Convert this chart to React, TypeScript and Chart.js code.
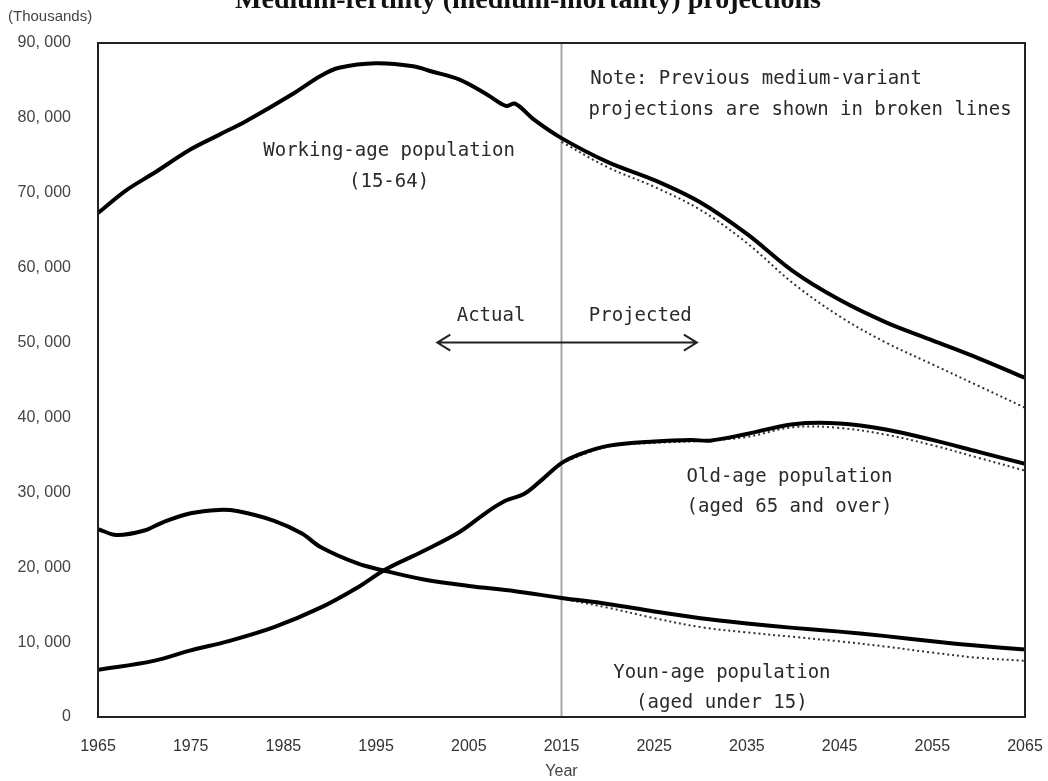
import React, { useEffect, useRef } from "react";
import { Chart, registerables } from "chart.js";

Chart.register(...registerables);

// ---- Data (thousands) ----
const xTickYears = [1965, 1975, 1985, 1995, 2005, 2015, 2025, 2035, 2045, 2055, 2065];
const yTickValues = [0, 10000, 20000, 30000, 40000, 50000, 60000, 70000, 80000, 90000];

const workingYears = [1965, 1968, 1971, 1975, 1978, 1981, 1986, 1989, 1991, 1995, 1999, 2001, 2004, 2007, 2009, 2010, 2012, 2015, 2020, 2025, 2030, 2035, 2040, 2045, 2050, 2055, 2060, 2065];
const workingValues = [67300, 70300, 72600, 75800, 77700, 79600, 83200, 85600, 86700, 87300, 86900, 86200, 85100, 83100, 81600, 81900, 79800, 77300, 74100, 71700, 68700, 64500, 59500, 55700, 52700, 50300, 47900, 45300];

const oldYears = [1965, 1971, 1975, 1979, 1984, 1989, 1993, 1996, 2000, 2004, 2007, 2009, 2011, 2013, 2015, 2017, 2020, 2025, 2029, 2031, 2035, 2040, 2045, 2050, 2055, 2060, 2065];
const oldValues = [6300, 7500, 8900, 10100, 12000, 14600, 17300, 19700, 22100, 24700, 27400, 28900, 29800, 31800, 33900, 35100, 36200, 36800, 37000, 36900, 37800, 39100, 39200, 38400, 37000, 35400, 33800];

const youngYears = [1965, 1967, 1970, 1972, 1975, 1978, 1980, 1984, 1987, 1989, 1993, 1996, 2000, 2005, 2010, 2015, 2020, 2025, 2030, 2035, 2040, 2045, 2050, 2055, 2060, 2065];
const youngValues = [25100, 24300, 24900, 26000, 27200, 27650, 27500, 26200, 24500, 22700, 20500, 19500, 18400, 17500, 16800, 15900, 15100, 14100, 13200, 12500, 11900, 11400, 10800, 10100, 9500, 9000];

const prevYears = [2015, 2020, 2025, 2030, 2035, 2040, 2045, 2050, 2055, 2060, 2065];
const prevWorking = [76800, 73400, 70800, 67700, 63300, 57900, 53500, 50000, 47100, 44200, 41300];
const prevOld = [33950, 36100, 36600, 36850, 37400, 38700, 38600, 37700, 36300, 34600, 32900];
const prevYoung = [15800, 14600, 13200, 12000, 11300, 10700, 10100, 9400, 8600, 7900, 7500];

const boundaryYear = 2015;

const TITLE = "Medium-fertility (medium-mortality) projections";
const MONO = "'DejaVu Sans Mono', monospace";
const SANS = "'Liberation Sans', Arial, sans-serif";

function pts(xs: number[], ys: number[]) {
  return xs.map((x, i) => ({ x, y: ys[i] }));
}

const annotationPlugin = {
  id: "annotations",
  beforeDatasetsDraw(chart: any) {
    const { ctx, chartArea, scales } = chart;
    const x = scales.x.getPixelForValue(boundaryYear);
    ctx.save();
    ctx.strokeStyle = "#a8a8a8";
    ctx.lineWidth = 2;
    ctx.beginPath();
    ctx.moveTo(x, chartArea.top);
    ctx.lineTo(x, chartArea.bottom);
    ctx.stroke();
    ctx.restore();
  },
  afterDraw(chart: any) {
    const { ctx, chartArea, scales } = chart;
    const sx = scales.x;
    const sy = scales.y;
    const X = (v: number) => sx.getPixelForValue(v);
    const Y = (v: number) => sy.getPixelForValue(v);
    ctx.save();

    // frame
    ctx.strokeStyle = "#222";
    ctx.lineWidth = 2;
    ctx.strokeRect(chartArea.left, chartArea.top, chartArea.right - chartArea.left, chartArea.bottom - chartArea.top);

    // title (partially cut off at top)
    ctx.fillStyle = "#111";
    ctx.font = "bold 28px 'Liberation Serif', 'Times New Roman', serif";
    ctx.textAlign = "center";
    ctx.textBaseline = "alphabetic";
    ctx.fillText(TITLE, 528, 8);

    // units
    ctx.fillStyle = "#444";
    ctx.font = `15px ${SANS}`;
    ctx.textAlign = "left";
    ctx.textBaseline = "middle";
    ctx.fillText("(Thousands)", 8, 17);

    // axis title
    ctx.font = `16px ${SANS}`;
    ctx.textAlign = "center";
    ctx.fillText("Year", (chartArea.left + chartArea.right) / 2, 772);

    // annotation texts
    ctx.fillStyle = "#2a2a2a";
    ctx.font = `19px ${MONO}`;
    ctx.textBaseline = "middle";
    ctx.textAlign = "left";
    ctx.fillText("Note: Previous medium-variant", X(2018.1), Y(85200));
    ctx.fillText("projections are shown in broken lines", X(2017.9), Y(81100));

    ctx.textAlign = "center";
    ctx.fillText("Working-age population", X(1996.4), Y(75600));
    ctx.fillText("(15-64)", X(1996.4), Y(71400));
    ctx.fillText("Actual", X(2007.4), Y(53600));
    ctx.fillText("Projected", X(2023.5), Y(53600));
    ctx.fillText("Old-age population", X(2039.6), Y(32000));
    ctx.fillText("(aged 65 and over)", X(2039.6), Y(28000));
    ctx.fillText("Youn-age population", X(2032.3), Y(5900));
    ctx.fillText("(aged under 15)", X(2032.3), Y(1900));

    // double-headed arrow
    const ax1 = X(2001.6);
    const ax2 = X(2029.6);
    const ay = Y(50000);
    ctx.strokeStyle = "#222";
    ctx.lineWidth = 2;
    ctx.beginPath();
    ctx.moveTo(ax1, ay);
    ctx.lineTo(ax2, ay);
    ctx.moveTo(ax1 + 13, ay - 8);
    ctx.lineTo(ax1, ay);
    ctx.lineTo(ax1 + 13, ay + 8);
    ctx.moveTo(ax2 - 13, ay - 8);
    ctx.lineTo(ax2, ay);
    ctx.lineTo(ax2 - 13, ay + 8);
    ctx.stroke();

    ctx.restore();
  },
};

export default function App() {
  const ref = useRef<HTMLCanvasElement | null>(null);

  useEffect(() => {
    if (!ref.current) return;
    const solid = { borderColor: "#000", borderWidth: 4, pointRadius: 0, tension: 0.35, fill: false, borderJoinStyle: "round" as const };
    const dotted = { borderColor: "#333", borderWidth: 2, borderDash: [2, 3], pointRadius: 0, tension: 0.35, fill: false };
    const chart = new Chart(ref.current, {
      type: "line",
      data: {
        datasets: [
          { label: "Working-age population (15-64)", data: pts(workingYears, workingValues), ...solid },
          { label: "Old-age population (aged 65 and over)", data: pts(oldYears, oldValues), ...solid },
          { label: "Youn-age population (aged under 15)", data: pts(youngYears, youngValues), ...solid },
          { label: "Previous working-age", data: pts(prevYears, prevWorking), ...dotted },
          { label: "Previous old-age", data: pts(prevYears, prevOld), ...dotted },
          { label: "Previous young-age", data: pts(prevYears, prevYoung), ...dotted },
        ],
      },
      options: {
        animation: false,
        responsive: false,
        layout: { padding: { left: 0, right: 23, top: 43, bottom: 0 } },
        plugins: { legend: { display: false }, tooltip: { enabled: false } },
        scales: {
          x: {
            type: "linear",
            min: 1965,
            max: 2065,
            afterBuildTicks: (scale: any) => {
              scale.ticks = xTickYears.map((v) => ({ value: v }));
            },
            afterFit: (scale: any) => {
              scale.height = 64;
              scale.paddingLeft = 0;
              scale.paddingRight = 0;
            },
            grid: { display: false, drawTicks: false },
            border: { display: false },
            ticks: {
              padding: 20,
              color: "#333",
              font: { family: SANS, size: 16 },
              maxRotation: 0,
              autoSkip: false,
              callback: (v: any) => String(v),
            },
          },
          y: {
            type: "linear",
            min: 0,
            max: 90000,
            afterBuildTicks: (scale: any) => {
              scale.ticks = yTickValues.map((v) => ({ value: v }));
            },
            afterFit: (scale: any) => {
              scale.width = 98;
              scale.paddingTop = 0;
              scale.paddingBottom = 0;
            },
            grid: { display: false, drawTicks: false },
            border: { display: false },
            ticks: {
              padding: 27,
              color: "#444",
              font: { family: SANS, size: 16 },
              callback: (v: any) => {
                const n = Number(v);
                if (n === 0) return "0";
                const th = Math.floor(n / 1000);
                const rest = String(n % 1000).padStart(3, "0");
                return `${th}, ${rest}`;
              },
            },
          },
        },
      },
      plugins: [annotationPlugin],
    });
    return () => chart.destroy();
  }, []);

  return (
    <div style={{ position: "absolute", left: 0, top: 0, width: 1048, height: 781, background: "#fff" }}>
      <canvas ref={ref} width={1048} height={781} style={{ width: 1048, height: 781, display: "block" }} />
    </div>
  );
}
